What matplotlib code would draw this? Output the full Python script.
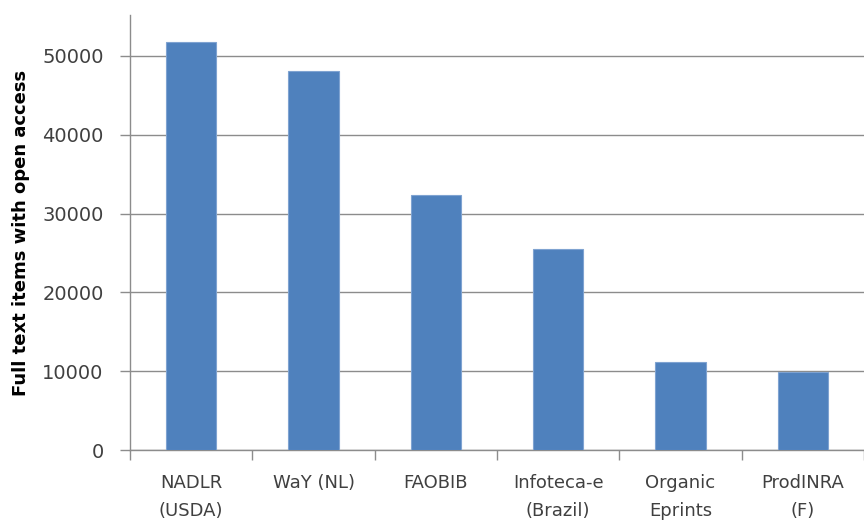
import numpy as np
import matplotlib.pyplot as plt

categories = ["NADLR\n(USDA)", "WaY (NL)", "FAOBIB", "Infoteca-e\n(Brazil)",
              "Organic\nEprints", "ProdINRA\n(F)"]
items = [51800, 48100, 32300, 25500, 11200, 9950]
yticks = [0, 10000, 20000, 30000, 40000, 50000]

grid_col = "#8c8c8c"
text_col = "#404040"

fig = plt.figure(figsize=(8.64, 5.28), dpi=100)
ax = fig.add_axes([0.1505, 0.1477, 0.8495, 0.8239])

x = np.arange(len(categories))
ax.bar(x, items, width=0.41, color="#4f81bd", edgecolor="#7fa3d1",
       linewidth=0.8, zorder=3)

ax.set_xlim(-0.5, 5.41)
ax.set_ylim(0, 55200)
ax.set_yticks(yticks)
ax.set_yticklabels([str(v) for v in yticks], fontsize=14, color=text_col)
ax.yaxis.grid(True, color=grid_col, linewidth=1.0, zorder=0)

ax.set_xticks(x)
ax.set_xticklabels(categories, fontsize=13, color=text_col, linespacing=1.75)
ax.set_xticks(np.arange(-0.5, len(categories), 1.0), minor=True)
ax.tick_params(axis="x", which="major", length=0, pad=17)
ax.tick_params(axis="x", which="minor", length=7, color=grid_col, width=1.0)
ax.tick_params(axis="y", length=7, color=grid_col, width=1.0, pad=12)

for side in ["top", "right"]:
    ax.spines[side].set_visible(False)
for side in ["left", "bottom"]:
    ax.spines[side].set_color(grid_col)
    ax.spines[side].set_linewidth(1.0)

ax.set_ylabel("Full text items with open access", fontsize=13,
              fontweight="bold", color="black", labelpad=9)

fig.savefig("out.png", dpi=100)
